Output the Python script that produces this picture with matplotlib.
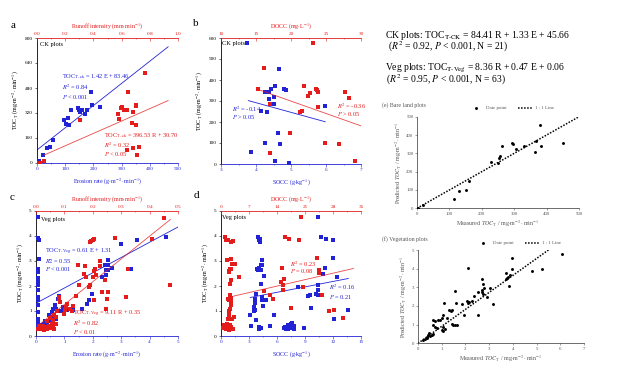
import numpy as np
import matplotlib
matplotlib.use("Agg")
import matplotlib.pyplot as plt
from matplotlib.ticker import AutoMinorLocator

plt.rcParams['font.family'] = ['Liberation Serif', 'DejaVu Serif']
plt.rcParams['mathtext.fontset'] = 'stix'

BLUE = '#2323d6'
RED = '#e41c1c'
GRAY = '#555555'

#%% panel a : CK plots, erosion rate (blue) / runoff intensity (red) vs TOC_T
a_erosion = [2, 8, 23, 35, 47, 55, 94, 102, 109, 115, 120, 145, 149, 151, 159, 171, 179, 191, 194, 224, 382]
a_toc_e = [6, 11, 53, 96, 100, 149, 273, 249, 286, 243, 339, 352, 341, 324, 339, 311, 341, 452, 371, 356, 576]
a_runoff = [0.019, 0.047, 0.306, 0.576, 0.581, 0.593, 0.600, 0.619, 0.635, 0.647, 0.635,
            0.671, 0.678, 0.682, 0.699, 0.699, 0.701, 0.706, 0.722, 0.765, 0.012]
a_toc_r = [0, 11, 273, 313, 284, 352, 358, 341, 341, 452, 85,
           256, 324, 94, 245, 362, 371, 51, 100, 576, 3]
a_fit_e = (1.42, 83.46)
a_fit_r = (396.53, 30.70)

#%% panel b : CK plots, SOCC (blue) / DOCC (red) vs TOC_T
b_socc = [3.75, 3.86, 4.14, 4.27, 4.32, 4.36, 4.43, 4.37, 4.32, 4.27, 4.50, 4.54, 4.65,
          4.79, 4.85, 4.64, 4.69, 4.54, 4.95, 5.98, 4.51]
b_toc_s = [577, 55, 254, 344, 344, 344, 355, 311, 246, 100, 286, 371, 453,
           355, 351, 150, 96, 14, 5, 275, 321]
b_docc = [15.3, 16.1, 17.0, 17.0, 19.9, 21.3, 21.5, 21.9, 22.4, 22.7, 23.1, 23.5, 23.7,
          23.9, 23.8, 24.8, 26.8, 27.7, 28.3, 29.1]
b_toc_d = [355, 455, 52, 288, 150, 246, 254, 371, 325, 340, 577, 355, 351,
           341, 273, 100, 96, 341, 313, 13]
b_fit_s = (-45.9, 475.5)
b_fit_d = (-11.8, 535.5)

#%% panel c : Veg plots, erosion rate (blue) / runoff intensity (red) vs TOC_T
c_erosion = [0.06, 0.08, 0.10, 0.12, 0.06, 0.06, 0.06, 0.06, 0.06, 0.06, 0.06, 0.06, 0.06, 0.06, 0.06, 0.06,
             0.10, 0.15, 0.20, 0.25, 0.12, 0.18, 0.30, 0.35, 0.40, 0.45, 0.08, 0.22, 0.28, 0.50, 0.32,
             0.55, 0.61, 0.67, 0.72, 0.82, 0.78, 0.96, 1.29, 1.61, 1.81, 1.88, 1.96, 2.33, 2.45, 2.47,
             2.53, 2.55, 2.67, 2.98, 3.35, 3.55, 4.59, 2.55, 2.42, 0.60, 0.70, 0.88, 1.00, 0.45, 0.52,
             1.10, 0.30]
c_toc_e = [4.75, 3.94, 3.84, 3.09, 2.70, 2.57, 2.33, 2.17, 2.06, 1.86, 1.56, 1.46, 1.23, 0.96, 0.70, 0.55,
           0.35, 0.40, 0.45, 0.38, 0.30, 0.28, 0.42, 0.50, 0.55, 0.60, 0.42, 0.33, 0.47, 0.65, 0.36,
           0.96, 1.10, 1.23, 1.08, 1.60, 1.50, 1.18, 1.03, 1.07, 1.30, 1.43, 1.70, 2.37, 2.43, 2.63,
           2.83, 2.66, 2.74, 3.70, 2.70, 3.84, 3.97, 3.05, 2.85, 0.75, 0.70, 1.02, 0.90, 0.85, 0.78,
           1.05, 0.62]
c_runoff = [0.005, 0.010, 0.015, 0.020, 0.025, 0.030, 0.035, 0.040, 0.045, 0.050, 0.055, 0.060, 0.065,
            0.070, 0.012, 0.028, 0.040, 0.050, 0.055, 0.060, 0.065, 0.070, 0.075, 0.080, 0.082, 0.085,
            0.100, 0.103, 0.106, 0.110, 0.120, 0.125, 0.130, 0.140, 0.149, 0.152, 0.168, 0.173, 0.175,
            0.185, 0.190, 0.200, 0.205, 0.207, 0.210, 0.190, 0.200, 0.205, 0.195, 0.205, 0.226, 0.226,
            0.232, 0.247, 0.249, 0.252, 0.244, 0.279, 0.318, 0.324, 0.408, 0.449, 0.473]
c_toc_r = [0.30, 0.35, 0.28, 0.32, 0.40, 0.30, 0.36, 0.28, 0.42, 0.33, 0.38, 0.45, 0.30,
           0.50, 0.42, 0.25, 0.60, 0.72, 0.50, 0.63, 0.85, 0.75, 1.00, 1.50, 1.55, 1.38,
           0.90, 1.03, 1.16, 1.30, 1.10, 1.00, 1.20, 1.60, 2.86, 2.03, 2.50, 2.80, 2.35,
           1.95, 3.76, 3.86, 3.90, 2.70, 2.45, 2.05, 2.35, 2.60, 3.80, 1.45, 2.80, 3.00,
           1.76, 1.07, 1.50, 1.78, 2.23, 3.94, 1.56, 2.69, 3.90, 4.73, 2.05]
c_fit_e = (0.61, 1.31)
c_fit_r = (9.11, 0.35)

#%% panel d : Veg plots, SOCC (blue) / DOCC (red) vs TOC_T
d_socc = [3.13, 3.24, 3.50, 3.55, 3.60, 3.62, 3.70, 3.65, 3.78, 3.92, 4.03, 4.13, 4.20, 3.85, 3.96,
          4.10, 4.27, 4.38, 4.42, 4.30, 4.27, 4.38, 4.30, 4.03, 4.10, 4.50, 4.60, 4.78, 5.27, 5.70,
          6.80, 6.87, 6.95, 7.05, 7.15, 7.22, 7.30, 7.37, 7.48, 7.58, 7.60, 7.77, 7.87, 8.30, 8.94,
          9.37, 9.55, 9.62, 10.19, 10.44, 10.37, 10.44, 10.44, 10.72, 10.97, 11.15, 11.26, 12.04,
          12.04, 12.10, 12.47, 13.57, 4.35]
d_toc_s = [0.83, 0.40, 1.00, 1.15, 1.33, 1.50, 1.67, 1.05, 0.63, 3.97, 3.84, 3.77, 3.87, 2.70, 2.66,
           2.74, 2.85, 3.05, 2.85, 2.66, 2.10, 1.46, 0.32, 0.29, 0.36, 1.22, 2.40, 1.45, 0.42, 0.83,
           0.32, 0.38, 0.28, 0.36, 0.43, 0.28, 0.36, 0.32, 0.49, 0.36, 0.53, 0.40, 0.29, 1.97, 0.31,
           1.59, 1.63, 1.14, 1.69, 4.75, 2.06, 1.86, 1.63, 3.97, 2.50, 2.74, 3.89, 3.86,
           3.14, 0.70, 2.37, 1.06, 1.55]
d_docc = [0.4, 0.8, 1.0, 1.3, 1.5, 1.6, 1.7, 1.9, 2.1, 2.2, 2.4, 2.5, 1.7, 1.9, 2.1, 2.2, 2.4, 2.5,
          2.4, 2.2, 1.7, 1.9, 2.5, 2.2, 1.9, 1.6, 2.0, 2.4, 2.7, 2.6, 0.9, 1.3, 1.7, 2.4, 3.0, 3.2,
          3.4, 4.4, 2.2, 3.0, 2.8, 2.0, 12.3, 13.1, 15.2, 15.5, 15.6, 15.8, 16.0, 17.1, 17.5, 19.5,
          20.0, 20.4, 24.0, 24.4, 25.2, 24.6, 26.9, 28.3, 30.6, 10.8, 15.1]
d_toc_d = [0.32, 0.43, 0.36, 0.29, 0.47, 0.39, 0.29, 0.36, 0.25, 0.45, 0.36, 0.29, 0.69, 0.83, 0.96,
           1.10, 1.23, 1.36, 1.52, 1.63, 1.50, 1.46, 2.23, 2.70, 2.56, 3.03, 2.61, 2.70, 2.87, 3.09,
           3.97, 3.86, 3.84, 3.77, 3.80, 0.76, 2.90, 2.38, 2.08, 0.30, 0.69, 1.02, 1.63, 1.50, 2.74,
           2.03, 1.83, 2.30, 3.97, 3.89, 1.14, 3.86, 4.75, 1.97, 3.14, 2.53, 1.63, 2.66, 0.99, 1.03,
           0.72, 1.82, 2.15]
d_fit_s = (0.0723, 1.314)
d_fit_d = (0.0369, 1.479)

#%% panels e, f : measured vs predicted
e_meas = [2, 19, 113, 130, 151, 162, 229, 251, 253, 256, 263, 294, 296, 306, 331, 364, 366, 380, 382, 452]
e_pred = [3, 16, 52, 96, 100, 151, 253, 245, 276, 285, 340, 355, 349, 325, 340, 309, 369, 453, 340, 355]
e_line = ([0, 500], [0, 500])

f_meas = [2.10, 6.06, 3.98, 3.95, 4.80, 5.22, 2.69, 3.73, 3.88, 3.81, 3.77, 3.71, 3.85, 2.76, 2.78,
          2.71, 2.69, 2.76, 3.04, 2.54, 2.90, 3.15, 2.38, 1.56, 1.59, 2.05, 2.10, 2.17, 2.27, 1.87,
          1.95, 2.54, 1.10, 1.32, 1.39, 1.45, 1.04, 1.21, 1.00, 0.86, 0.93, 0.65, 0.72, 1.42, 1.49,
          1.56, 1.63, 0.65, 0.72, 0.79, 1.07, 1.14, 1.00, 1.04, 0.22, 0.30, 0.37, 0.43, 0.51, 0.58,
          0.65, 0.48, 0.39]
f_pred = [4.05, 4.78, 4.59, 3.96, 3.89, 3.96, 3.42, 3.75, 3.66, 3.56, 3.48, 3.42, 3.08, 3.16, 2.99,
          2.84, 2.74, 2.65, 2.97, 2.74, 2.46, 2.10, 2.56, 2.80, 2.17, 2.26, 2.17, 2.22, 2.26, 2.10,
          1.54, 1.54, 2.17, 1.77, 1.72, 1.77, 1.54, 1.38, 1.33, 1.27, 1.24, 1.24, 1.20, 1.06, 0.97,
          1.00, 0.97, 0.97, 0.88, 0.84, 0.88, 0.79, 0.70, 0.66, 0.16, 0.25, 0.34, 0.43, 0.38, 0.47,
          0.52, 0.56, 0.31]
f_line = ([0, 5.5], [0, 5.0])

UNIT = r"(mg$\cdot$m$^{-2}\cdot$min$^{-1}$)"
TXT = 4.6


def px_axes(fig, left, right, top, bottom):
    W, H = 626.0, 378.0
    return fig.add_axes([left / W, 1 - bottom / H, (right - left) / W, (bottom - top) / H])


def dual_panel(fig, box, xb, yb, fit_b, xr, yr, fit_r, b_span, r_span,
               xlim, xticks, tlim, tticks, ylim, yticks, xlabel, tlabel, ylabel):
    ax = px_axes(fig, *box)
    top = ax.twiny()
    ax.scatter(xb, yb, marker='s', s=5, color=BLUE, linewidths=0, zorder=3)
    top.scatter(xr, yr, marker='s', s=5, color=RED, linewidths=0, zorder=3)
    xx = np.array(b_span)
    ax.plot(xx, fit_b[0] * xx + fit_b[1], color=BLUE, lw=0.6)
    xx = np.array(r_span)
    top.plot(xx, fit_r[0] * xx + fit_r[1], color=RED, lw=0.6, alpha=0.8)
    ax.set_xlim(*xlim)
    ax.set_xticks(xticks)
    top.set_xlim(*tlim)
    top.set_xticks(tticks)
    ax.set_ylim(*ylim)
    ax.set_yticks(yticks)
    ax.xaxis.set_minor_locator(AutoMinorLocator(2))
    top.xaxis.set_minor_locator(AutoMinorLocator(2))
    for a in (ax, top):
        a.spines['right'].set_visible(False)
        a.tick_params(labelsize=3.8, length=1.8, width=0.4, pad=1.2)
        a.tick_params(which='minor', length=1.0, width=0.4)
    top.tick_params(axis='x', which='both', direction='in')
    ax.spines['top'].set_visible(False)
    top.spines['bottom'].set_visible(False)
    top.spines['left'].set_visible(False)
    ax.spines['bottom'].set_color(BLUE)
    ax.spines['left'].set_linewidth(0.6)
    ax.spines['bottom'].set_linewidth(0.6)
    top.spines['top'].set_color(RED)
    top.spines['top'].set_linewidth(0.6)
    ax.tick_params(axis='x', which='both', colors=BLUE)
    top.tick_params(axis='x', which='both', colors=RED)
    ax.set_xlabel(xlabel, color=BLUE, fontsize=4.3, labelpad=4)
    top.set_xlabel(tlabel, color=RED, fontsize=4.3, labelpad=2.5)
    ax.set_ylabel(ylabel, fontsize=4.3, labelpad=2.5)
    return ax


def note(ax, x, y, s, color='black'):
    ax.text(x, y, s, transform=ax.transAxes, fontsize=TXT, color=color, va='center')


fig = plt.figure(figsize=(6.26, 3.78), dpi=100)

# a
ax = dual_panel(fig, (37, 178, 38, 163), a_erosion, a_toc_e, a_fit_e, a_runoff, a_toc_r, a_fit_r,
                [0, 465], [0.05, 0.93], (0, 500), [0, 100, 200, 300, 400, 500],
                (0, 1.0), [0.0, 0.2, 0.4, 0.6, 0.8, 1.0], (0, 800), [0, 160, 320, 480, 640, 800],
                r"Erosion rate (g$\cdot$m$^{-2}\cdot$min$^{-1}$)", r"Runoff intensity (mm$\cdot$min$^{-1}$)",
                r"TOC$_\mathrm{T}$ " + UNIT)
note(ax, 0.02, 0.95, "CK plots")
note(ax, 0.18, 0.69, r"TOC$_\mathrm{T\text{-}ck}$ = 1.42 E + 83.46", BLUE)
note(ax, 0.18, 0.61, r"$R^2$ = 0.84", BLUE)
note(ax, 0.18, 0.53, r"$P$ < 0.001", BLUE)
note(ax, 0.475, 0.22, r"TOC$_\mathrm{T\text{-}ck}$ = 396.53 R + 30.70", RED)
note(ax, 0.475, 0.14, r"$R^2$ = 0.32", RED)
note(ax, 0.475, 0.07, r"$P$ < 0.05", RED)

# b
ax = dual_panel(fig, (221, 361, 38, 164), b_socc, b_toc_s, b_fit_s, b_docc, b_toc_d, b_fit_d,
                [3.78, 5.98], [15.3, 30.0], (3, 7), [3, 4, 5, 6, 7],
                (10, 30), [10, 15, 20, 25, 30], (0, 600), [0, 100, 200, 300, 400, 500, 600],
                r"SOCC (g$\cdot$kg$^{-1}$)", r"DOCC (mg$\cdot$L$^{-1}$)", r"TOC$_\mathrm{T}$ " + UNIT)
note(ax, 0.01, 0.96, "CK plots")
note(ax, 0.076, 0.434, r"$R^2$ = -0.14", BLUE)
note(ax, 0.076, 0.375, r"$P$ > 0.05", BLUE)
note(ax, 0.83, 0.46, r"$R^2$ = -0.36", RED)
note(ax, 0.83, 0.40, r"$P$ > 0.05", RED)

# c
ax = dual_panel(fig, (36, 178, 211, 336), c_erosion, c_toc_e, c_fit_e, c_runoff, c_toc_r, c_fit_r,
                [0, 5], [0.005, 0.473], (0, 5), [0, 1, 2, 3, 4, 5],
                (0, 0.5), [0.0, 0.1, 0.2, 0.3, 0.4, 0.5], (0, 5), [0, 1, 2, 3, 4, 5],
                r"Erosion rate (g$\cdot$m$^{-2}\cdot$min$^{-1}$)", r"Runoff intensity (mm$\cdot$min$^{-1}$)",
                r"TOC$_\mathrm{T}$ " + UNIT)
note(ax, 0.035, 0.928, "Veg plots")
note(ax, 0.063, 0.674, r"TOC$_\mathrm{T\text{-}Veg}$ = 0.61 E + 1.31", BLUE)
note(ax, 0.063, 0.602, r"$R2$ = 0.55", BLUE)
note(ax, 0.063, 0.534, r"$P$ < 0.001", BLUE)
note(ax, 0.26, 0.18, r"TOC$_\mathrm{T\text{-}Veg}$ = 9.11 R + 0.35", RED)
note(ax, 0.26, 0.106, r"$R^2$ = 0.82", RED)
note(ax, 0.26, 0.034, r"$P$ < 0.01", RED)

# d
ax = dual_panel(fig, (221, 361, 211, 336), d_socc, d_toc_s, d_fit_s, d_docc, d_toc_d, d_fit_d,
                [3.13, 13.64], [3.0, 33.1], (0, 15), [0, 3, 6, 9, 12, 15],
                (0, 35), [0, 7, 14, 21, 28, 35], (0, 5), [0, 1, 2, 3, 4, 5],
                r"SOCC (g$\cdot$kg$^{-1}$)", r"DOCC (mg$\cdot$L$^{-1}$)", r"TOC$_\mathrm{T}$ " + UNIT)
note(ax, 0.01, 0.95, "Veg plots")
note(ax, 0.49, 0.576, r"$R^2$ = 0.23", RED)
note(ax, 0.49, 0.52, r"$P$ = 0.08", RED)
note(ax, 0.77, 0.39, r"$R^2$ = 0.16", BLUE)
note(ax, 0.77, 0.31, r"$P$ = 0.21", BLUE)

for lab, x, y in [("a", 11, 25), ("b", 193, 23), ("c", 10, 197), ("d", 194, 196)]:
    fig.text(x / 626, 1 - y / 378, lab, fontsize=8, ha='left', va='center')

# equations on the right
eqs = [(385, 35, r"CK plots: TOC$_\mathrm{T\text{-}CK}$ = 84.41 R + 1.33 E + 45.66"),
       (386, 47, r" ($R^2$ = 0.92, $P$ < 0.001, N = 21)"),
       (385, 68, r"Veg plots: TOC$_\mathrm{T\text{-}Veg}$ = 8.36 R + 0.47 E + 0.06"),
       (386, 80, r"($R^2$ = 0.95, $P$ < 0.001, N = 63)")]
for x, y, s in eqs:
    fig.text(x / 626, 1 - y / 378, s, fontsize=6.9, ha='left', va='center')


def mp_panel(fig, box, meas, pred, line, lim_x, xticks, lim_y, yticks, title, title_y, leg_x, leg_y):
    ax = px_axes(fig, *box)
    ax.scatter(meas, pred, s=4.5, color='black', linewidths=0, label='Date point', zorder=3)
    ax.plot(line[0], line[1], color='black', ls=(0, (1, 1)), lw=1.1, label='1 : 1 Line')
    ax.set_xlim(*lim_x)
    ax.set_ylim(*lim_y)
    ax.set_xticks(xticks)
    ax.set_yticks(yticks)
    for s in ('top', 'right'):
        ax.spines[s].set_visible(False)
    for s in ('left', 'bottom'):
        ax.spines[s].set_linewidth(0.5)
        ax.spines[s].set_color('#333333')
    ax.tick_params(labelsize=3.5, length=1.5, width=0.4, pad=1, colors=GRAY)
    ax.set_xlabel(r"Measured $TOC_\mathrm{T}$ / mg$\cdot$m$^{-2}\cdot$min$^{-1}$", fontsize=4.3, color=GRAY, labelpad=2)
    ax.set_ylabel(r"Predicted $TOC_\mathrm{T}$ / mg$\cdot$m$^{-2}\cdot$min$^{-1}$", fontsize=4.3, color=GRAY, labelpad=2)
    fig.text(382 / 626, 1 - title_y / 378, title, fontsize=4.2, color=GRAY, va='center')
    w = box[1] - box[0]
    h = box[3] - box[2]
    ax.legend(loc='center left', bbox_to_anchor=((leg_x - box[0]) / w, 1 + (box[2] - leg_y) / h),
              ncol=2, frameon=False, fontsize=3.5, labelcolor=GRAY, handlelength=3.0,
              columnspacing=2.5, handletextpad=0.4, borderpad=0, borderaxespad=0)
    return ax


mp_panel(fig, (417, 579, 116.7, 208.3), e_meas, e_pred, e_line, (0, 500), [0, 100, 200, 300, 400, 500],
         (0, 500), [0, 100, 200, 300, 400, 500], "(e) Bare land plots", 105, 469, 108)
mp_panel(fig, (418, 584, 250, 343.3), f_meas, f_pred, f_line, (0, 7), [0, 1, 2, 3, 4, 5, 6, 7],
         (0, 5), [0, 1, 2, 3, 4, 5], "(f) Vegetation plots", 239, 476, 243)

fig.savefig("out.png", dpi=100)
